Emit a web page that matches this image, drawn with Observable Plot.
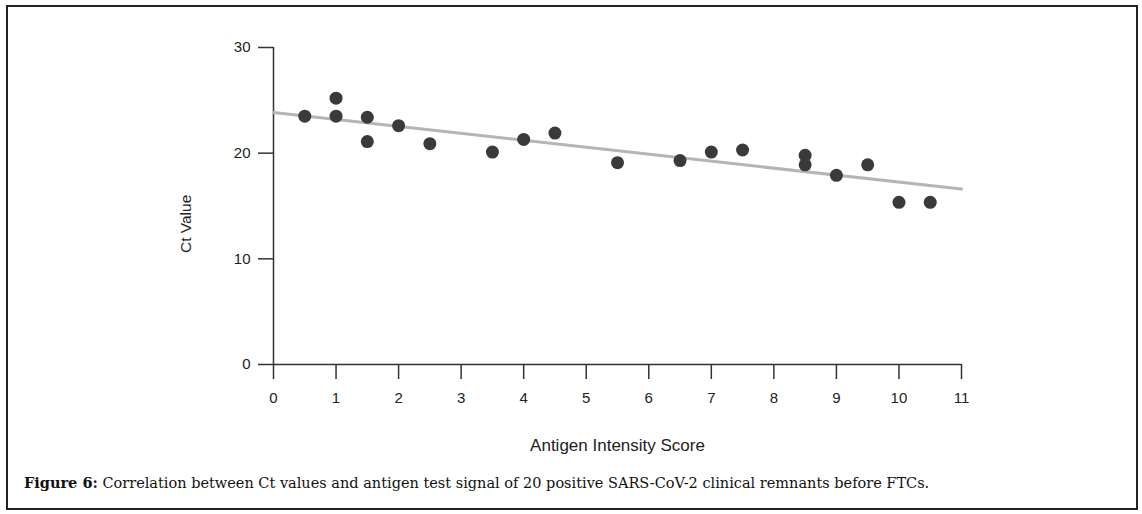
<!DOCTYPE html>
<html>
<head>
<meta charset="utf-8">
<script src="https://cdn.jsdelivr.net/npm/d3@7"></script>
<script src="https://cdn.jsdelivr.net/npm/@observablehq/plot@0.6"></script>
<style>
  html, body { margin: 0; padding: 0; background: #fff; }
  #wrap { position: relative; width: 1142px; height: 514px; overflow: hidden; }
  #frame { position: absolute; left: 6px; top: 5px; width: 1128px; height: 501px; border: 2px solid #222; box-sizing: content-box; }
  #chart { position: absolute; left: 0; top: 0; }
  #caption { position: absolute; left: 24px; top: 474px; font-family: "DejaVu Serif", serif; font-size: 14.5px; color: #111; white-space: nowrap; }
  #caption b { font-weight: bold; }
</style>
</head>
<body>
<div id="wrap">
  <div id="frame"></div>
  <div id="chart"></div>
  <div id="caption"><b>Figure 6:</b> Correlation between Ct values and antigen test signal of 20 positive SARS-CoV-2 clinical remnants before FTCs.</div>
</div>
<script>
// Data
const antigenScore = [0.5, 1, 1, 1.5, 1.5, 2, 2.5, 3.5, 4, 4.5, 5.5, 6.5, 7, 7.5, 8.5, 8.5, 9, 9.5, 10, 10.5];
const ctValue = [23.5, 25.2, 23.5, 23.4, 21.1, 22.6, 20.9, 20.1, 21.3, 21.9, 19.1, 19.3, 20.1, 20.3, 19.8, 18.9, 17.9, 18.9, 15.35, 15.35];
const trendX = [0, 11];
const trendY = [23.85, 16.6];
const xTicks = [0, 1, 2, 3, 4, 5, 6, 7, 8, 9, 10, 11];
const yTicks = [0, 10, 20, 30];
const xLabel = "Antigen Intensity Score";
const yLabel = "Ct Value";

const points = antigenScore.map((x, i) => ({x, y: ctValue[i]}));
const trend = trendX.map((x, i) => ({x, y: trendY[i]}));

const axisColor = "#333";
const chart = Plot.plot({
  width: 1142,
  height: 460,
  marginLeft: 273,
  marginRight: 181,
  marginTop: 47,
  marginBottom: 96,
  style: {fontFamily: "'Liberation Sans', Arial, sans-serif", fontSize: "15px", color: "#222", background: "transparent"},
  x: {domain: [0, 11], ticks: xTicks},
  y: {domain: [0, 30], ticks: yTicks},
  marks: [
    Plot.axisX({ticks: xTicks, tickSize: 15, tickPadding: 13, label: null, stroke: axisColor, strokeWidth: 1.5, fontSize: 15}),
    Plot.axisY({ticks: yTicks, tickSize: 15, tickPadding: 8, label: null, stroke: axisColor, strokeWidth: 1.5, fontSize: 15}),
    Plot.ruleX([0], {stroke: axisColor, strokeWidth: 1.5}),
    Plot.ruleY([0], {stroke: axisColor, strokeWidth: 1.5}),
    Plot.line(trend, {x: "x", y: "y", stroke: "#b5b5b5", strokeWidth: 3}),
    Plot.dot(points, {x: "x", y: "y", r: 6.5, fill: "#3a3a3a", stroke: "none"}),
    Plot.text([xLabel], {frameAnchor: "bottom", dy: 86, text: d => d, fontSize: 17, fill: "#222"}),
    Plot.text([yLabel], {frameAnchor: "left", dx: -87, dy: 47, rotate: -90, text: d => d, fontSize: 15.5, fill: "#222"})
  ]
});
document.getElementById("chart").appendChild(chart);
</script>
</body>
</html>
